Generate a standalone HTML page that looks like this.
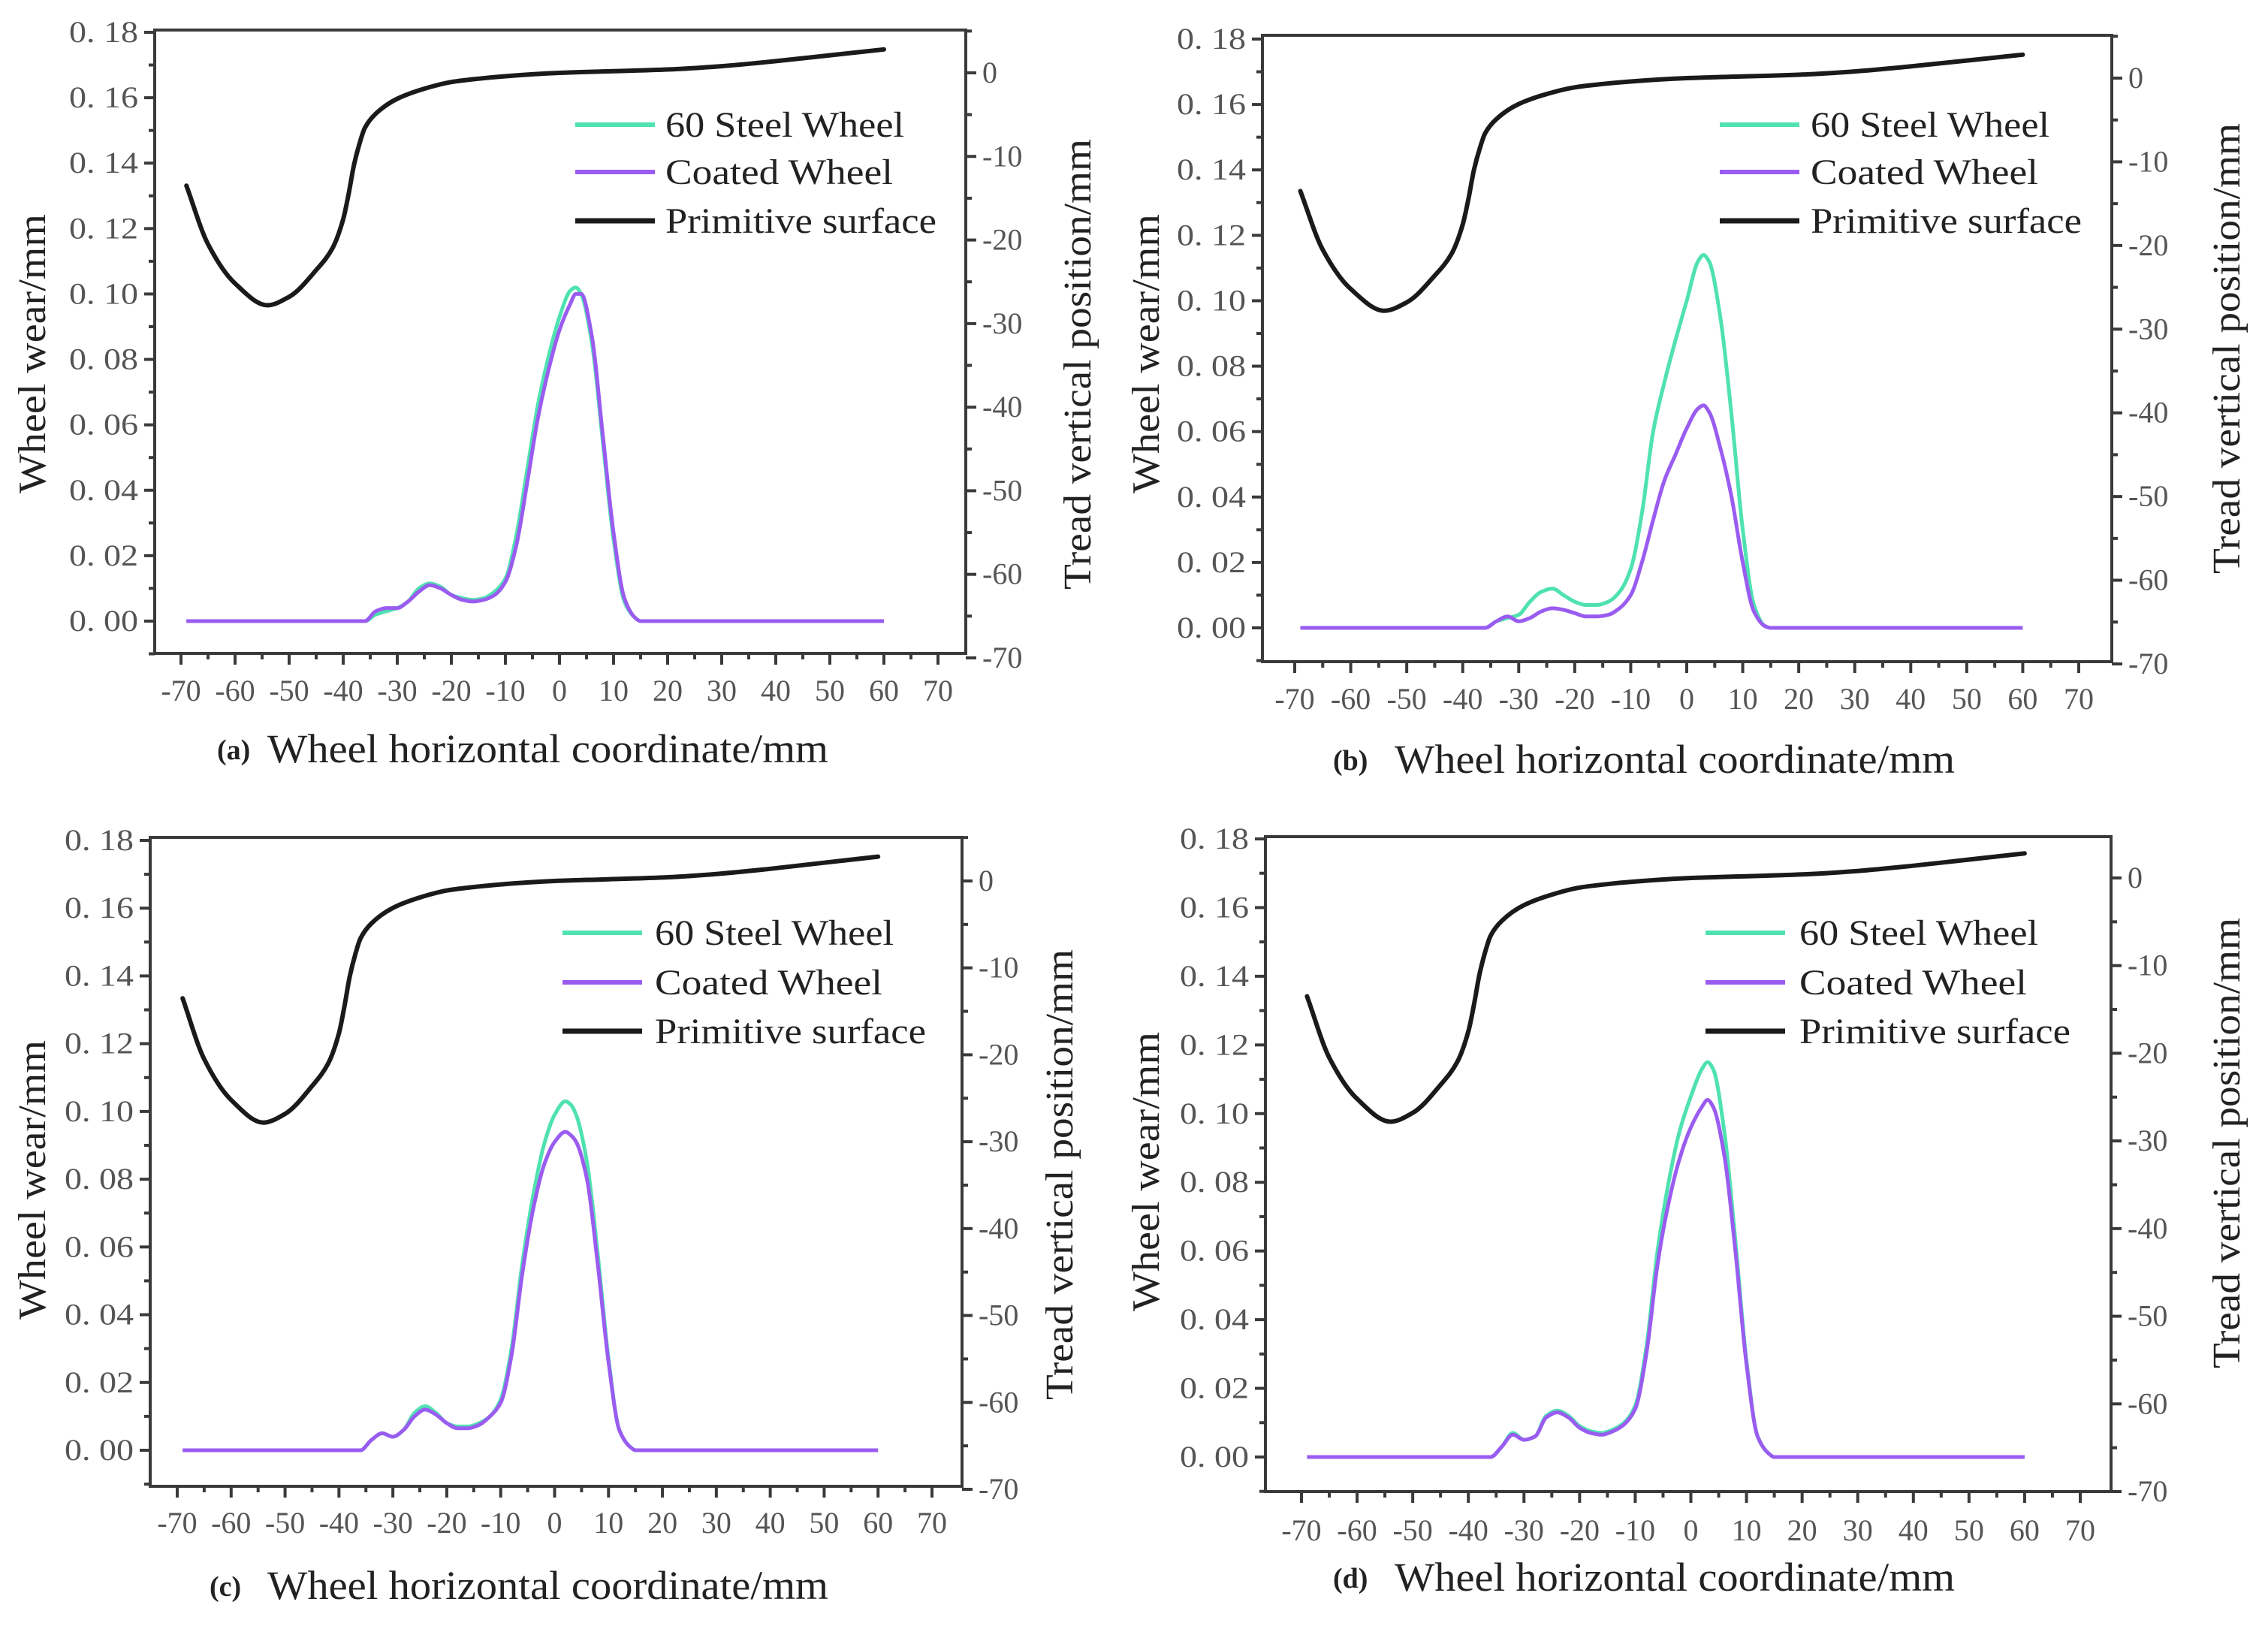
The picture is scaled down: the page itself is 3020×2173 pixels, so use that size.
<!DOCTYPE html>
<html><head><meta charset="utf-8"><style>
html,body{margin:0;padding:0;background:#fff}
svg{display:block}
text{font-family:"Liberation Serif",serif}
</style></head><body>
<svg id="fig" width="3020" height="2173" viewBox="0 0 3020 2173" xmlns="http://www.w3.org/2000/svg"></svg>
<script>
// ---- data ----
const xTicks = [-70,-60,-50,-40,-30,-20,-10,0,10,20,30,40,50,60,70];
const leftTicks = [0,0.02,0.04,0.06,0.08,0.10,0.12,0.14,0.16,0.18];
const leftTickLabels = ["0. 00","0. 02","0. 04","0. 06","0. 08","0. 10","0. 12","0. 14","0. 16","0. 18"];
const rightTicks = [0,-10,-20,-30,-40,-50,-60,-70];
const surfX = [-69,-65,-60,-54,-50,-45,-42,-40,-39,-38,-37,-36,-34,-30,-25,-20,-15,-10,0,10,20,30,40,50,60];
const surfY = [-13.5,-20.5,-25.2,-27.8,-26.8,-23.6,-21,-17.5,-14.5,-11,-8.5,-6.6,-4.9,-3.1,-1.9,-1.1,-0.7,-0.4,0,0.2,0.4,0.8,1.4,2.1,2.8];
const wearX = [-69,-36,-34,-32,-30,-28,-26,-24,-22,-20,-18,-16,-14,-12,-10,-8,-6,-4,-2,0,2,3,4,6,8,10,12,14,15,60];
const steelA  = [0,0,0.002,0.003,0.004,0.006,0.010,0.0115,0.0105,0.008,0.007,0.0065,0.007,0.009,0.013,0.026,0.046,0.066,0.081,0.093,0.101,0.102,0.100,0.085,0.055,0.025,0.006,0.001,0,0];
const coatA   = [0,0,0.003,0.004,0.004,0.006,0.009,0.011,0.010,0.008,0.0065,0.006,0.0065,0.008,0.012,0.023,0.042,0.062,0.077,0.089,0.097,0.100,0.100,0.087,0.057,0.027,0.007,0.001,0,0];
const steelB  = [0,0,0.002,0.003,0.004,0.008,0.011,0.012,0.010,0.008,0.007,0.007,0.008,0.011,0.018,0.035,0.060,0.075,0.088,0.100,0.112,0.114,0.112,0.095,0.065,0.030,0.007,0.0005,0,0];
const coatB   = [0,0,0.002,0.0035,0.002,0.003,0.005,0.006,0.0055,0.0045,0.0035,0.0035,0.004,0.006,0.010,0.020,0.033,0.045,0.053,0.061,0.067,0.068,0.066,0.055,0.040,0.020,0.005,0.0005,0,0];
const steelC  = [0,0,0.003,0.005,0.004,0.006,0.011,0.013,0.011,0.008,0.007,0.007,0.008,0.010,0.015,0.030,0.055,0.075,0.090,0.099,0.103,0.102,0.099,0.085,0.058,0.027,0.006,0.001,0,0];
const coatC   = [0,0,0.003,0.005,0.004,0.006,0.010,0.012,0.0105,0.008,0.0065,0.0065,0.0075,0.010,0.014,0.028,0.052,0.071,0.084,0.091,0.094,0.093,0.091,0.080,0.055,0.026,0.006,0.001,0,0];
const steelD  = [0,0,0.003,0.007,0.005,0.006,0.012,0.0135,0.012,0.009,0.0075,0.007,0.008,0.010,0.015,0.032,0.060,0.080,0.095,0.105,0.113,0.115,0.113,0.095,0.063,0.028,0.006,0.001,0,0];
const coatD   = [0,0,0.003,0.0065,0.005,0.006,0.0115,0.013,0.0115,0.0085,0.007,0.0065,0.0075,0.0095,0.014,0.030,0.056,0.074,0.087,0.096,0.102,0.104,0.102,0.088,0.060,0.027,0.006,0.001,0,0];

const panels = [
 {id:"a", steel:steelA, coat:coatA, box:[206,40,1286,870], xm70:241, xp70:1249, y0:827, y18:43, r0:97, r70:876,
  xl:920, cap:["(a)",289,356,1103,997], legX:766, legT:886, legY:[166,229,294], lt:43, ltY:471, rt:1435, rtY:485},
 {id:"b", steel:steelB, coat:coatB, box:[1681,47,2812,881], xm70:1724, xp70:2768, y0:836, y18:52, r0:104, r70:884,
  xl:931, cap:["(b)",1775,1857,2603,1011], legX:2290, legT:2411, legY:[166,229,294], lt:1526, ltY:471, rt:2965, rtY:464},
 {id:"c", steel:steelC, coat:coatC, box:[200,1115,1281,1979], xm70:236, xp70:1241, y0:1931, y18:1119, r0:1173, r70:1983,
  xl:2028, cap:["(c)",279,356,1103,2111], legX:749, legT:872, legY:[1242,1308,1373], lt:43, ltY:1571, rt:1411, rtY:1564},
 {id:"d", steel:steelD, coat:coatD, box:[1685,1114,2811,1986], xm70:1733, xp70:2770, y0:1940, y18:1117, r0:1169, r70:1986,
  xl:2038, cap:["(d)",1775,1857,2603,2100], legX:2271, legT:2396, legY:[1242,1308,1373], lt:1526, ltY:1560, rt:2965, rtY:1522}
];

const NS = "http://www.w3.org/2000/svg";
const svg = document.getElementById('fig');
function mk(tag, attrs, parent){ const e=document.createElementNS(NS,tag); for(const k in attrs) e.setAttribute(k,attrs[k]); (parent||svg).appendChild(e); return e; }
function smooth(pts){
  const n=pts.length, dx=[], m=[], t=new Array(n);
  for(let i=0;i<n-1;i++){ dx[i]=pts[i+1][0]-pts[i][0]; m[i]=(pts[i+1][1]-pts[i][1])/dx[i]; }
  t[0]=m[0]; t[n-1]=m[n-2];
  for(let i=1;i<n-1;i++){
    if(m[i-1]*m[i]<=0) t[i]=0;
    else { const w1=2*dx[i]+dx[i-1], w2=dx[i]+2*dx[i-1]; t[i]=(w1+w2)/(w1/m[i-1]+w2/m[i]); }
  }
  let d="M"+pts[0][0].toFixed(1)+","+pts[0][1].toFixed(1);
  for(let i=0;i<n-1;i++){
    const h=dx[i]/3;
    d+=" C"+(pts[i][0]+h).toFixed(1)+","+(pts[i][1]+t[i]*h).toFixed(1)+" "+(pts[i+1][0]-h).toFixed(1)+","+(pts[i+1][1]-t[i+1]*h).toFixed(1)+" "+pts[i+1][0].toFixed(1)+","+pts[i+1][1].toFixed(1);
  }
  return d;
}

panels.forEach(P=>{
  const g = mk('g',{});
  
  
  const xs = v => P.xm70 + (v+70)/140*(P.xp70-P.xm70);
  const ys = v => P.y0 + v/0.18*(P.y18-P.y0);
  const yr = v => P.r0 + (-v)/70*(P.r70-P.r0);
  const [L,T,R,B] = P.box;
  const ax = '#3a3a3a';
  const frame = mk('rect',{x:L,y:T,width:R-L,height:B-T,fill:'none',stroke:ax,'stroke-width':4},g);
  
  
  xTicks.forEach((v,i)=>{
    const x=xs(v);
    mk('line',{x1:x,y1:B,x2:x,y2:B+15,stroke:ax,'stroke-width':4},g);
    if(i<xTicks.length-1){ const xm=xs(v+5); mk('line',{x1:xm,y1:B,x2:xm,y2:B+8,stroke:ax,'stroke-width':4},g); }
    const t=mk('text',{x:x,y:P.xl+13,'text-anchor':'middle','font-size':40,fill:'#555'},g);
    t.textContent = v<0 ? '-'+Math.abs(v) : String(v);
    
    
  });
  leftTicks.forEach((v,i)=>{
    const y=ys(v);
    mk('line',{x1:L-14,y1:y,x2:L,y2:y,stroke:ax,'stroke-width':4},g);
    if(i<leftTicks.length-1){ const ym=ys(v+0.01); mk('line',{x1:L-8,y1:ym,x2:L,y2:ym,stroke:ax,'stroke-width':4},g); }
    const t=mk('text',{x:L-22,y:y+13,'text-anchor':'end','font-size':40,fill:'#555',textLength:92,lengthAdjust:'spacingAndGlyphs'},g);
    t.textContent = leftTickLabels[i];
    
    
  });
  { const ym=ys(-0.01); mk('line',{x1:L-8,y1:ym,x2:L,y2:ym,stroke:ax,'stroke-width':4},g); }
  rightTicks.forEach((v,i)=>{
    const y=yr(v);
    mk('line',{x1:R,y1:y,x2:R+14,y2:y,stroke:ax,'stroke-width':4},g);
    const ym=yr(v+5); if(ym>T) mk('line',{x1:R,y1:ym,x2:R+8,y2:ym,stroke:ax,'stroke-width':4},g);
    const t=mk('text',{x:R+22,y:y+13,'text-anchor':'start','font-size':40,fill:'#555'},g);
    t.textContent = v<0 ? '-'+Math.abs(v) : String(v);
    
    
  });
  const sp = smooth(surfX.map((x,i)=>[xs(x),yr(surfY[i])]));
  const s = mk('path',{d:sp,fill:'none',stroke:'#1a1a1a','stroke-width':6,'stroke-linejoin':'round','stroke-linecap':'round'},g);
  
  
  const st = mk('path',{d:smooth(wearX.map((x,i)=>[xs(x),ys(P.steel[i])])),fill:'none',stroke:'#4fe2b0','stroke-width':5,'stroke-linejoin':'round'},g);
  
  
  const ct = mk('path',{d:smooth(wearX.map((x,i)=>[xs(x),ys(P.coat[i])])),fill:'none',stroke:'#9a5cf0','stroke-width':5,'stroke-linejoin':'round'},g);
  
  
  const lg = mk('g',{},g);
  
  
  const leg = [["60 Steel Wheel",'#4fe2b0',318],["Coated Wheel",'#9a5cf0',303],["Primitive surface",'#1a1a1a',361]];
  leg.forEach((e,i)=>{
    const y=P.legY[i];
    mk('line',{x1:P.legX,y1:y,x2:P.legX+106,y2:y,stroke:e[1],'stroke-width':i==2?7:6},lg);
    const t=mk('text',{x:P.legT,y:y+16,'font-size':48,fill:'#222',textLength:e[2],lengthAdjust:'spacingAndGlyphs'},lg);
    t.textContent=e[0];
    
    
  });
  const lt=mk('text',{x:0,y:0,'font-size':52,fill:'#222','text-anchor':'middle',transform:`translate(${P.lt+17},${P.ltY}) rotate(-90)`,textLength:372,lengthAdjust:'spacingAndGlyphs'},g);
  lt.textContent='Wheel wear/mm';
  
  
  const rt=mk('text',{x:0,y:0,'font-size':52,fill:'#222','text-anchor':'middle',transform:`translate(${P.rt+17},${P.rtY}) rotate(-90)`,textLength:600,lengthAdjust:'spacingAndGlyphs'},g);
  rt.textContent='Tread vertical position/mm';
  
  
  const c1=mk('text',{x:P.cap[1],y:P.cap[4]+14,'font-size':38,'font-weight':'bold',fill:'#222'},g);
  c1.textContent=P.cap[0];
  
  
  const c2=mk('text',{x:P.cap[2],y:P.cap[4]+18,'font-size':54,fill:'#222',textLength:P.cap[3]-P.cap[2],lengthAdjust:'spacingAndGlyphs'},g);
  c2.textContent='Wheel horizontal coordinate/mm';
  
  
});
</script>
</body></html>
